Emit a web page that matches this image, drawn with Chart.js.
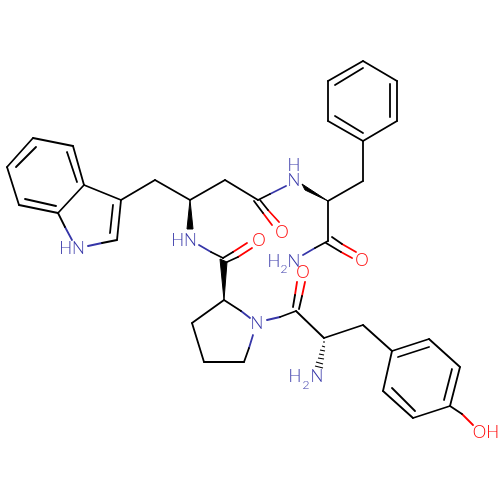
<!DOCTYPE html>
<html>
<head>
<meta charset="utf-8">
<style>
  html, body { margin: 0; padding: 0; background: #fff; }
  canvas { display: block; }
</style>
<script src="https://cdn.jsdelivr.net/npm/chart.js@4"></script>
</head>
<body>
<canvas id="myChart" width="500" height="500"></canvas>
<script>
// bonds as [x1, y1, x2, y2]
const blackBonds = [
  [33,138,73,146],[73,146,84,185],[84,185,58,213],[58,213,19,205],[19,205,7,167],[7,167,33,138],
  [36,147,16,167],[67,152,77,182],[25,199,56,206],
  [84,185,121,200],[121,200,117,240],[113,205,110,233],
  [58,213,65,227],[117,240,102,243],
  [121,200,155,180],[155,180,190,200],[190,200,225,180],[225,180,258,200],
  [258,200,270,194],[211,252,223,258],[223,258,233,252],[227,262,238,257],
  [224,300,192,323],[192,323,204,362],[204,362,244,362],[244,362,249,348],[224,300,241,311],
  [280,317,296,311],[293,307,295,295],[299,309,302,296],
  [296,311,324,338],[324,338,363,325],[363,325,392,351],
  [392,351,429,339],[429,339,460,367],[460,367,450,406],[450,406,413,418],[413,418,383,391],[383,391,392,351],
  [398,357,429,347],[452,369,444,400],[392,388,415,411],[450,406,462,414],
  [363,61,397,81],[397,81,397,121],[397,121,363,141],[363,141,328,121],[328,121,328,81],[328,81,363,61],
  [335,85,363,68],[390,84,390,117],[335,116,363,133],
  [363,141,363,181],[363,181,328,201],[328,201,328,241],
  [328,241,315,248],[326,243,341,252],[332,237,342,244],
  [254,201,263,213],[260,200,268,210]
];
const blueBonds = [
  [65,227,72,240],[102,243,88,246],[199,245,211,252],
  [241,311,250,318],[253,335,249,348],[267,320,280,317],
  [286,186,270,194],[315,248,303,255]
];
const redBonds = [
  [233,252,247,243],[238,257,252,248],[295,295,297,282],[302,296,305,282],
  [462,414,473,425],[341,252,352,258],[342,244,356,252],
  [263,213,272,225],[268,210,279,222]
];
// wedge bonds, each a list of corner points
const wedges = [
  [[190,200],[187,229],[193,229]],
  [[224,300],[220,259],[227,262]],
  [[328,201],[302,184],[305,190]]
];
// hashed bond stripes
const hashes = [
  [323,342,325,342],[322,346,325,347],[320,350,325,351],[319,354,324,355],
  [318,358,324,359],[316,362,323,364],[315,366,323,368]
];
const labelText = ["HN","HN","H","N","O","O","N","O","H","N","O","H","N","OH"];
const labelX = [72,184,294,294,282,259,257,303,274,294,362,295,317,486];
const labelY = [249,241,166,181,233,241,324,273,262,262,261,377,377,433];
const subX = [284,306];
const subY = [269,385];

const INK = "#000000", BLUE = "#3636a8", RED = "#ff0000";

function lineSet(seg, color) {
  return {
    data: [{x: seg[0], y: seg[1]}, {x: seg[2], y: seg[3]}],
    showLine: true, borderColor: color, borderWidth: 1.8, pointRadius: 0, borderCapStyle: "round"
  };
}
function hashSet(seg) {
  return { ...lineSet(seg, INK), borderWidth: 1.2, borderCapStyle: "butt" };
}
function wedgeSet(corners) {
  return {
    data: corners.concat([corners[0]]).map(p => ({x: p[0], y: p[1]})),
    showLine: true, borderColor: INK, backgroundColor: INK, borderWidth: 1, pointRadius: 0, fill: "shape"
  };
}

const atomLabels = {
  id: "atomLabels",
  afterDatasetsDraw(chart) {
    const c = chart.ctx, sx = chart.scales.x, sy = chart.scales.y;
    c.save();
    c.textAlign = "center";
    c.textBaseline = "middle";
    c.font = "300 17px Lato, 'Liberation Sans'";
    labelText.forEach((t, i) => {
      c.fillStyle = (t === "O" || t === "OH") ? RED : BLUE;
      c.fillText(t, sx.getPixelForValue(labelX[i]), sy.getPixelForValue(labelY[i]));
    });
    c.font = "300 12px Lato, 'Liberation Sans'";
    c.fillStyle = BLUE;
    subX.forEach((x, i) => c.fillText("2", sx.getPixelForValue(x), sy.getPixelForValue(subY[i])));
    c.restore();
  }
};

new Chart("myChart", {
  type: "scatter",
  data: {
    datasets: [
      ...blackBonds.map(s => lineSet(s, INK)),
      ...blueBonds.map(s => lineSet(s, BLUE)),
      ...redBonds.map(s => lineSet(s, RED)),
      ...hashes.map(hashSet),
      ...wedges.map(wedgeSet)
    ]
  },
  options: {
    responsive: false,
    animation: false,
    layout: { padding: 0 },
    plugins: { legend: { display: false }, tooltip: { enabled: false } },
    scales: {
      x: { display: false, min: 0, max: 500 },
      y: { display: false, min: 0, max: 500, reverse: true }
    }
  },
  plugins: [atomLabels]
});
</script>
</body>
</html>
